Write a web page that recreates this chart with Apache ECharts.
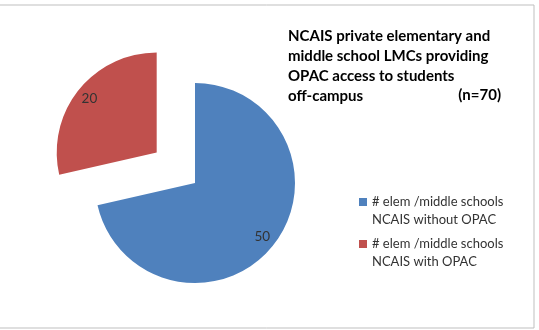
<!DOCTYPE html>
<html><head><meta charset="utf-8">
<script src="https://cdn.jsdelivr.net/npm/echarts@6/dist/echarts.min.js"></script>
<style>html,body{margin:0;padding:0;background:#fff}#c{width:539px;height:330px}</style>
</head><body><div id="c"></div>
<script>
const categories = ['# elem /middle schools\nNCAIS without OPAC', '# elem /middle schools\nNCAIS with OPAC'];
const values = [50, 20];
const colors = ['#4F81BD', '#C0504D'];
const titleLines = ['NCAIS private elementary and', 'middle school LMCs providing', 'OPAC access to students', 'off-campus'];
const titleNote = '(n=70)';

const chart = echarts.init(document.getElementById('c'));
const data = categories.map((name, i) => ({
  name, value: values[i], selected: i === 1, itemStyle: { color: colors[i] }
}));
const center = [195, 183];
chart.setOption({
  animation: false,
  title: {
    text: titleLines.join('\n'),
    left: 283, top: 21,
    textStyle: { fontFamily: 'Lato', fontWeight: 'bold', fontSize: 15, lineHeight: 20, color: '#000' }
  },
  graphic: [
    { type: 'rect', shape: { x: -2, y: 5, width: 536, height: 323 }, style: { fill: 'none', stroke: '#bfbfbf', lineWidth: 1 }, silent: true },
    { type: 'text', right: 38, top: 88, style: { text: titleNote, font: 'bold 15px Lato', fill: '#000' } }
  ],
  legend: {
    orient: 'vertical', left: 354, top: 170,
    itemWidth: 8, itemHeight: 8, itemGap: -12,
    icon: 'rect',
    data: categories,
    formatter: n => '\n' + n,
    textStyle: { fontFamily: 'Lato', fontSize: 13, color: '#333', lineHeight: 18 }
  },
  series: [
    {
      type: 'pie', center, radius: 100, startAngle: 90, clockwise: true,
      selectedMode: 'multiple', selectedOffset: 49,
      label: { show: false }, labelLine: { show: false },
      emphasis: { disabled: true },
      data
    },
    {
      type: 'pie', center, radius: [66, 100], startAngle: 90, clockwise: true,
      selectedMode: 'multiple', selectedOffset: 49, silent: true,
      itemStyle: { color: 'rgba(0,0,0,0)' },
      label: { show: true, position: 'inside', formatter: '{c}', fontFamily: 'Lato', fontSize: 13.5, color: '#333' },
      labelLine: { show: false },
      emphasis: { disabled: true },
      data: categories.map((name, i) => ({ name, value: values[i], selected: i === 1, itemStyle: { color: 'rgba(0,0,0,0)' } }))
    }
  ]
});
</script></body></html>
